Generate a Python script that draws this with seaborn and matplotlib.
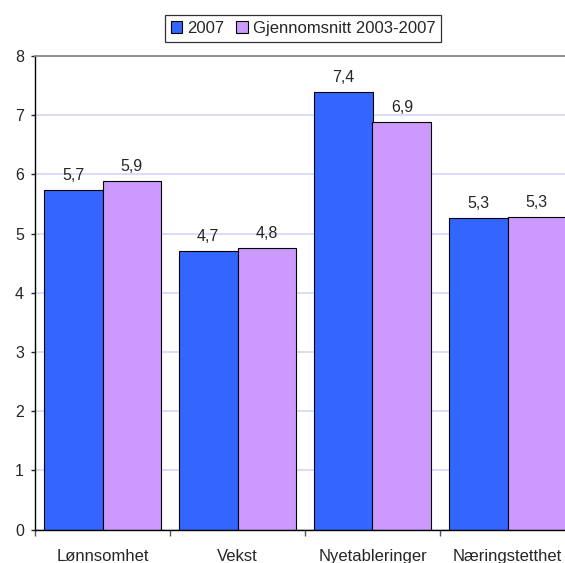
import pandas as pd
import matplotlib.pyplot as plt
import seaborn as sns

categories = ['Lønnsomhet', 'Vekst', 'Nyetableringer', 'Næringstetthet']
series_names = ['2007', 'Gjennomsnitt 2003-2007']
values_2007 = [5.74, 4.71, 7.39, 5.27]
values_avg = [5.89, 4.76, 6.89, 5.28]
y_ticks = [0, 1, 2, 3, 4, 5, 6, 7, 8]

df = pd.DataFrame({
    'kategori': categories * 2,
    'serie': [series_names[0]] * 4 + [series_names[1]] * 4,
    'verdi': values_2007 + values_avg,
})

sns.set_style('white')
plt.rcParams['font.family'] = ['Liberation Sans', 'DejaVu Sans']

fig = plt.figure(figsize=(5.65, 5.63), dpi=100)
# the plot area runs past the right edge of the picture, as in the original
ax = fig.add_axes([35 / 565, 33.5 / 563, 540 / 565, 473.5 / 563])

sns.barplot(data=df, x='kategori', y='verdi', hue='serie', ax=ax,
            palette=['#3366FF', '#CC99FF'], saturation=1, width=0.87,
            edgecolor='black', linewidth=0.8, legend=True)

for cont in ax.containers:
    labels = [f'{b.get_height():.1f}'.replace('.', ',') for b in cont]
    ax.bar_label(cont, labels=labels, padding=5, fontsize=11.5)

ax.set_xlim(-0.5, 3.5)
ax.set_ylim(0, 8)
ax.set_yticks(y_ticks)
ax.yaxis.grid(True, color='#D6D6F8', linewidth=1.2)
ax.set_axisbelow(True)
ax.set_xlabel('')
ax.set_ylabel('')

ax.tick_params(axis='y', labelsize=11.5, length=3, width=1, direction='out', left=True, pad=5)
ax.tick_params(axis='x', which='major', labelsize=12, length=0, pad=14)
ax.set_xticks([-0.5, 0.5, 1.5, 2.5], minor=True)
ax.tick_params(axis='x', which='minor', length=4, width=1, direction='out', bottom=True, color='#555555')

for side in ['left', 'bottom']:
    ax.spines[side].set_color('black')
    ax.spines[side].set_linewidth(1)
ax.spines['top'].set_color('#888888')
ax.spines['top'].set_linewidth(1.3)
ax.spines['right'].set_visible(False)

handles, labs = ax.get_legend_handles_labels()
ax.legend_.remove()
leg = fig.legend(handles, labs, loc='center', bbox_to_anchor=(303 / 565, 1 - 28.5 / 563),
                 ncol=2, fontsize=12, frameon=True, fancybox=False, edgecolor='black',
                 handlelength=0.7, handleheight=0.7, handletextpad=0.3, columnspacing=0.7,
                 borderpad=0.35, borderaxespad=0)
leg.get_frame().set_linewidth(0.9)

fig.savefig('out.png', dpi=100)
